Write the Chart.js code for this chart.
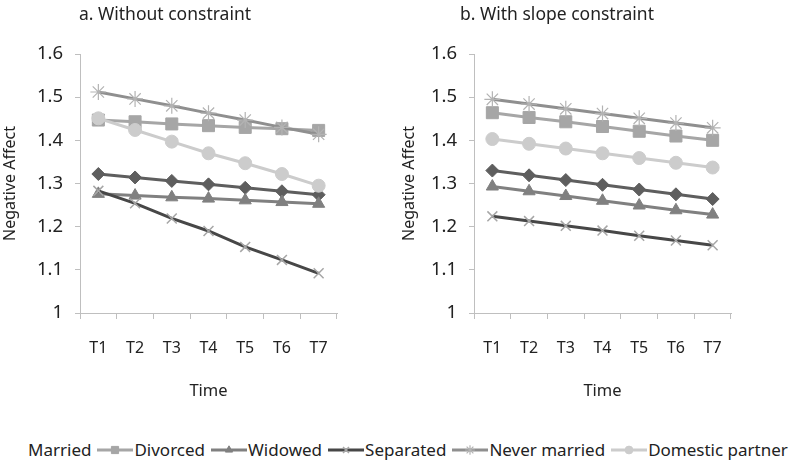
<!DOCTYPE html>
<html>
<head>
<meta charset="utf-8">
<script src="https://cdn.jsdelivr.net/npm/chart.js@4.4.0/dist/chart.umd.min.js"></script>
<style>
  body { margin: 0; background: #fff; font-family: "Noto Sans", sans-serif; color: #222; }
  #wrap { position: relative; width: 800px; height: 465px; overflow: hidden; }
  .panel { position: absolute; top: 0; width: 400px; height: 420px; }
  #legend { position: absolute; left: 28px; top: 438px; display: flex; align-items: center;
            font-size: 17px; white-space: nowrap; color: #222; }
  #legend .item { display: flex; align-items: center; }
  #legend canvas { margin: 0 1px 0 6px; }
</style>
</head>
<body>
<div id="wrap">
  <div class="panel" style="left:0"><canvas id="chartA"></canvas></div>
  <div class="panel" style="left:400px"><canvas id="chartB"></canvas></div>
  <div id="legend"></div>
</div>
<script>
// categories and series
var times = ["T1", "T2", "T3", "T4", "T5", "T6", "T7"];
var groups = ["Married", "Divorced", "Widowed", "Separated", "Never married", "Domestic partner"];

// a. Without constraint
var aMarried   = [1.322, 1.314, 1.306, 1.298, 1.290, 1.282, 1.274];
var aDivorced  = [1.447, 1.443, 1.438, 1.434, 1.430, 1.427, 1.423];
var aWidowed   = [1.276, 1.272, 1.268, 1.265, 1.261, 1.257, 1.253];
var aSeparated = [1.283, 1.254, 1.219, 1.190, 1.153, 1.123, 1.092];
var aNever     = [1.512, 1.496, 1.480, 1.463, 1.447, 1.430, 1.414];
var aDomestic  = [1.451, 1.424, 1.397, 1.370, 1.347, 1.322, 1.295];

// b. With slope constraint
var bMarried   = [1.330, 1.319, 1.308, 1.297, 1.286, 1.275, 1.264];
var bDivorced  = [1.464, 1.453, 1.443, 1.432, 1.421, 1.410, 1.400];
var bWidowed   = [1.293, 1.282, 1.271, 1.260, 1.249, 1.238, 1.228];
var bSeparated = [1.224, 1.213, 1.202, 1.191, 1.179, 1.168, 1.157];
var bNever     = [1.495, 1.484, 1.473, 1.462, 1.451, 1.440, 1.429];
var bDomestic  = [1.403, 1.392, 1.381, 1.370, 1.359, 1.348, 1.337];

var yTicks = [1, 1.1, 1.2, 1.3, 1.4, 1.5, 1.6];

var FONT = "Noto Sans";

// look of each series (Excel grey-scale)
var looks = [
  { line: "#5e5e5e", pt: "#5e5e5e", style: "rectRot",  r: 6.5, bw: 1 },
  { line: "#a6a6a6", pt: "#a6a6a6", style: "rect",     r: 8.5, bw: 1 },
  { line: "#808080", pt: "#808080", style: "triangle", r: 7,   bw: 1 },
  { line: "#474747", pt: "#a6a6a6", style: "crossRot", r: 7,   bw: 1.5 },
  { line: "#8f8f8f", pt: "#b3b3b3", style: "star",     r: 8,   bw: 1.2 },
  { line: "#cccccc", pt: "#cccccc", style: "circle",   r: 6.5, bw: 1 }
];

function makeSets(series) {
  var sets = [];
  for (var i = 0; i < series.length; i++) {
    var lk = looks[i];
    sets.push({
      label: groups[i],
      data: series[i],
      borderColor: lk.line,
      borderWidth: 3,
      backgroundColor: lk.pt,
      pointStyle: lk.style,
      pointRadius: lk.r,
      pointBackgroundColor: lk.pt,
      pointBorderColor: lk.pt,
      pointBorderWidth: lk.bw,
      tension: 0,
      order: series.length - 1 - i
    });
  }
  return sets;
}

// title drawn at a chosen x, like the original figure
var panelTitle = {
  id: "panelTitle",
  afterDraw: function(chart, args, opts) {
    var ctx = chart.ctx;
    ctx.save();
    ctx.font = "17.5px '" + FONT + "'";
    ctx.fillStyle = "#222";
    ctx.textAlign = "center";
    ctx.textBaseline = "middle";
    ctx.fillText(opts.text, opts.x, opts.y);
    ctx.restore();
  }
};

function makeChart(id, title, titleX, series, yWidth, padRight, yTitlePad) {
  var ctx = document.getElementById(id);
  return new Chart(ctx, {
    type: "line",
    data: { labels: times, datasets: makeSets(series) },
    plugins: [panelTitle],
    options: {
      responsive: false,
      animation: false,
      maintainAspectRatio: false,
      layout: { padding: { top: 54, right: padRight, bottom: 0, left: 0 } },
      plugins: {
        legend: { display: false },
        tooltip: { enabled: false },
        panelTitle: { text: title, x: titleX, y: 15 }
      },
      scales: {
        x: {
          offset: true,
          grid: { offset: true, drawOnChartArea: false, color: "#bfbfbf", tickLength: 6, lineWidth: 1 },
          border: { color: "#bfbfbf", width: 1 },
          ticks: { color: "#222", font: { family: FONT, size: 16 }, padding: 20, maxRotation: 0 },
          title: { display: true, text: "Time", color: "#222", font: { family: FONT, size: 16.5 }, padding: { top: 0, bottom: 19 } },
          afterFit: function(s) { s.height = 107; }
        },
        y: {
          min: 1,
          max: 1.6,
          afterBuildTicks: function(s) { s.ticks = yTicks.map(function(v) { return { value: v }; }); },
          grid: { drawOnChartArea: false, color: "#bfbfbf", tickLength: 5 },
          border: { color: "#bfbfbf", width: 1 },
          ticks: {
            color: "#222",
            font: { family: FONT, size: 18.5 },
            padding: 12,
            callback: function(v) { return String(Math.round(v * 10) / 10); }
          },
          title: { display: true, text: "Negative Affect", color: "#222", font: { family: FONT, size: 16 }, padding: { top: yTitlePad, bottom: 0 } },
          afterFit: function(s) { s.width = yWidth; }
        }
      }
    }
  });
}

var canvA = document.getElementById("chartA");
var canvB = document.getElementById("chartB");
canvA.width = 400; canvA.height = 420;
canvB.width = 400; canvB.height = 420;

makeChart("chartA", "a. Without constraint", 165,
  [aMarried, aDivorced, aWidowed, aSeparated, aNever, aDomestic], 80, 63, 1);
makeChart("chartB", "b. With slope constraint", 157,
  [bMarried, bDivorced, bWidowed, bSeparated, bNever, bDomestic], 74, 69, 0);

// shared legend at the bottom
var legend = document.getElementById("legend");
for (var i = 0; i < groups.length; i++) {
  var item = document.createElement("div");
  item.className = "item";
  if (i > 0) {
    var ic = document.createElement("canvas");
    ic.width = 36; ic.height = 16;
    var c = ic.getContext("2d");
    var lk = looks[i];
    c.strokeStyle = lk.line;
    c.lineWidth = 3;
    c.beginPath(); c.moveTo(0, 8); c.lineTo(36, 8); c.stroke();
    c.fillStyle = lk.pt;
    c.strokeStyle = lk.pt;
    c.lineWidth = lk.bw;
    Chart.helpers.drawPoint(c, { pointStyle: lk.style, radius: lk.r * 0.6, borderWidth: lk.bw }, 18, 8);
    item.appendChild(ic);
  }
  var t = document.createElement("span");
  t.textContent = groups[i];
  item.appendChild(t);
  legend.appendChild(item);
}
</script>
</body>
</html>
